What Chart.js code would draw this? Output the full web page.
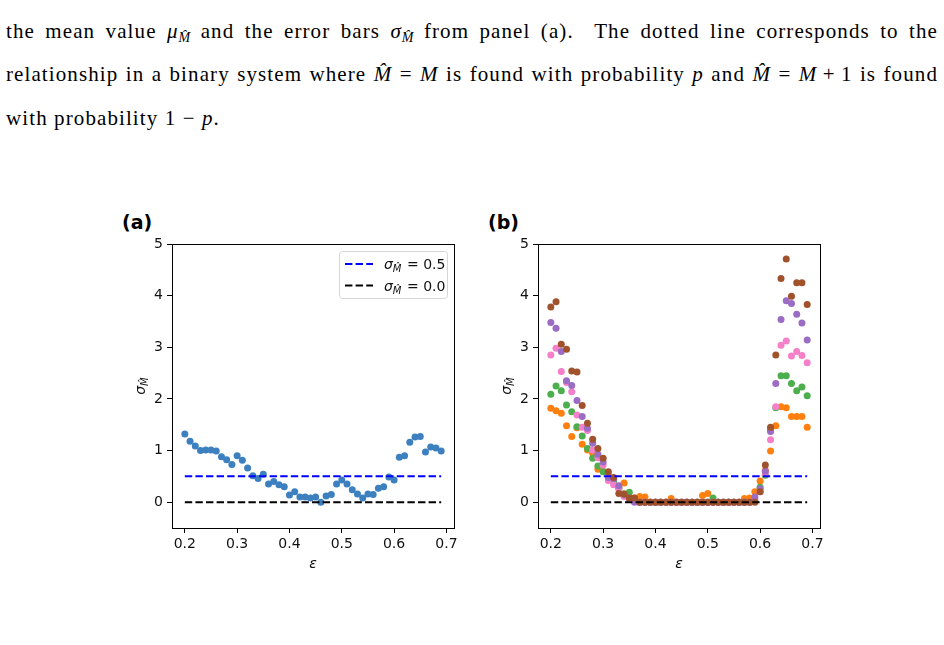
<!DOCTYPE html>
<html lang="en">
<head>
<meta charset="UTF-8">
<title>sigma vs epsilon</title>
<script src="https://cdn.jsdelivr.net/npm/chart.js"></script>
<style>
  body { margin: 0; width: 944px; height: 645px; background: #fff; position: relative; overflow: hidden; }
  .ln { position: absolute; left: 6px; width: 932px; font-family: 'Liberation Serif', serif; font-size: 21px;
        letter-spacing: 1.1px; line-height: 22px; color: #000; text-align: justify; text-align-last: justify; }
  .ln.last { text-align-last: left; }
  .ln sub { font-size: 14px; vertical-align: -4px; line-height: 0; letter-spacing: 0; }
  .tag { position: absolute; top: 213px; font: bold 19px 'DejaVu Sans'; line-height: 19px; color: #000; }
  .box { position: absolute; top: 230px; width: 360px; height: 350px; }
</style>
</head>
<body>
  <div class="ln" style="top:20px">the mean value <i>μ</i><sub><i>M&#770;</i></sub> and the error bars <i>σ</i><sub><i>M&#770;</i></sub> from panel (a).&nbsp; The dotted line corresponds to the</div>
  <div class="ln" style="top:63px">relationship in a binary system where <i>M&#770;</i> = <i>M</i> is found with probability <i>p</i> and <i>M&#770;</i> = <i>M</i>&#8201;+&#8201;1 is found</div>
  <div class="ln last" style="top:107px">with probability 1 − <i>p</i>.</div>

  <div class="tag" style="left:122px">(a)</div>
  <div class="tag" style="left:488px">(b)</div>
  <div class="box" style="left:110px"><canvas id="panelA" width="360" height="350"></canvas></div>
  <div class="box" style="left:476px"><canvas id="panelB" width="360" height="350"></canvas></div>

<script>
// epsilon values (x)
const xVals = [0.20, 0.21, 0.22, 0.23, 0.24, 0.25, 0.26, 0.27, 0.28, 0.29,
               0.30, 0.31, 0.32, 0.33, 0.34, 0.35, 0.36, 0.37, 0.38, 0.39,
               0.40, 0.41, 0.42, 0.43, 0.44, 0.45, 0.46, 0.47, 0.48, 0.49,
               0.50, 0.51, 0.52, 0.53, 0.54, 0.55, 0.56, 0.57, 0.58, 0.59,
               0.60, 0.61, 0.62, 0.63, 0.64, 0.65, 0.66, 0.67, 0.68, 0.69];
const xTicks = [0.2, 0.3, 0.4, 0.5, 0.6, 0.7];
const yTicks = [0, 1, 2, 3, 4, 5];
const xLimits = [0.1755, 0.7145];
const yLimits = [-0.5, 5];
const refLevels = [0.5, 0.0];
const legendLabels = ['= 0.5', '= 0.0'];

// panel (a)
const sigmaA = [1.32, 1.18, 1.09, 1.00, 1.01, 1.01, 0.99, 0.88, 0.82, 0.73,
                0.90, 0.81, 0.66, 0.51, 0.46, 0.54, 0.35, 0.40, 0.34, 0.30,
                0.14, 0.20, 0.10, 0.10, 0.08, 0.10, 0.00, 0.12, 0.15, 0.35,
                0.43, 0.35, 0.24, 0.16, 0.08, 0.16, 0.15, 0.27, 0.30, 0.49,
                0.43, 0.87, 0.90, 1.16, 1.26, 1.27, 0.97, 1.07, 1.05, 0.99];

// panel (b)
const sigmaOrange = [1.82, 1.77, 1.72, 1.48, 1.27, 1.44, 1.12, 1.01, 0.95, 0.64,
                     0.60, 0.52, 0.45, 0.28, 0.37, 0.10, 0.08, 0.11, 0.10, 0.00,
                     0.00, 0.00, 0.00, 0.07, 0.00, 0.00, 0.00, 0.00, 0.00, 0.13,
                     0.17, 0.00, 0.00, 0.00, 0.00, 0.00, 0.00, 0.07, 0.08, 0.20,
                     0.41, 0.62, 0.99, 1.48, 1.85, 1.83, 1.66, 1.66, 1.66, 1.45];
const sigmaGreen  = [2.09, 2.25, 2.16, 1.88, 1.75, 1.46, 1.28, 1.04, 0.85, 0.70,
                     0.59, 0.47, 0.40, 0.27, 0.16, 0.19, 0.06, 0.00, 0.00, 0.00,
                     0.00, 0.00, 0.00, 0.00, 0.00, 0.00, 0.00, 0.00, 0.00, 0.00,
                     0.00, 0.08, 0.00, 0.00, 0.00, 0.00, 0.00, 0.00, 0.00, 0.03,
                     0.29, 0.52, 1.40, 1.83, 2.45, 2.45, 2.30, 2.16, 2.23, 2.06];
const sigmaPink   = [2.85, 2.98, 2.53, 2.32, 2.14, 1.69, 1.45, 1.39, 1.01, 0.86,
                     0.72, 0.42, 0.34, 0.26, 0.11, 0.05, 0.02, 0.00, 0.00, 0.00,
                     0.00, 0.00, 0.00, 0.00, 0.00, 0.00, 0.00, 0.00, 0.00, 0.00,
                     0.00, 0.00, 0.00, 0.00, 0.00, 0.00, 0.00, 0.00, 0.00, 0.05,
                     0.20, 0.55, 1.21, 1.85, 3.04, 3.12, 2.83, 2.92, 2.84, 2.70];
const sigmaPurple = [3.48, 3.37, 2.92, 2.35, 2.26, 1.97, 1.66, 1.43, 1.14, 0.93,
                     0.78, 0.48, 0.46, 0.32, 0.15, 0.08, 0.00, 0.00, 0.00, 0.00,
                     0.00, 0.00, 0.00, 0.00, 0.00, 0.00, 0.00, 0.00, 0.00, 0.00,
                     0.00, 0.00, 0.00, 0.00, 0.00, 0.00, 0.00, 0.00, 0.00, 0.10,
                     0.26, 0.60, 1.37, 2.30, 3.54, 3.90, 3.85, 3.64, 3.47, 3.14];
const sigmaBrown  = [3.78, 3.88, 3.06, 2.96, 2.54, 2.52, 1.87, 1.53, 1.22, 1.04,
                     0.85, 0.59, 0.48, 0.17, 0.16, 0.08, 0.08, 0.00, 0.00, 0.00,
                     0.00, 0.00, 0.00, 0.00, 0.00, 0.00, 0.00, 0.00, 0.00, 0.00,
                     0.00, 0.00, 0.00, 0.00, 0.00, 0.00, 0.00, 0.00, 0.00, 0.00,
                     0.20, 0.72, 1.45, 2.85, 4.33, 4.71, 3.99, 4.25, 4.25, 3.83];

const FONT = 'DejaVu Sans';
const FSIZE = 14;
const DASH = [7.4, 3.2];
const pts = arr => xVals.map((x, i) => ({ x: x, y: arr[i] }));

function dots(arr, color, order) {
  return { type: 'scatter', data: pts(arr), backgroundColor: color, borderWidth: 0,
           pointRadius: 3.5, pointHoverRadius: 3.5, order: order };
}
function refLine(level, color) {
  return { type: 'line', data: [{ x: xVals[0], y: level }, { x: xVals[xVals.length - 1], y: level }],
           borderColor: color, borderWidth: 2, borderDash: DASH, pointRadius: 0,
           fill: false, order: 0 };
}

// sigma with M-hat subscript, optionally followed by more text
function drawSigma(ctx, x, y, align, tail) {
  const big = FSIZE + 'px ' + FONT, small = '10px ' + FONT;
  ctx.font = 'italic ' + big; const w1 = ctx.measureText('σ').width;
  ctx.font = 'italic ' + small; const w2 = ctx.measureText('M\u0302').width;
  ctx.font = big; const w3 = tail ? ctx.measureText(' ' + tail).width : 0;
  const x0 = align === 'center' ? x - (w1 + w2 + w3) / 2 : x;
  ctx.fillStyle = '#111';
  ctx.textAlign = 'left'; ctx.textBaseline = 'alphabetic';
  ctx.font = 'italic ' + big; ctx.fillText('σ', x0, y);
  ctx.font = 'italic ' + small; ctx.fillText('M\u0302', x0 + w1, y + 3);
  if (tail) { ctx.font = big; ctx.fillText(' ' + tail, x0 + w1 + w2 + 1, y); }
}

const axesPlugin = {
  id: 'axesFrame',
  afterDatasetsDraw(chart) {
    const ctx = chart.ctx, a = chart.chartArea;
    ctx.save();
    ctx.strokeStyle = '#000'; ctx.lineWidth = 1;
    ctx.strokeRect(Math.round(a.left) + 0.5, Math.round(a.top) + 0.5,
                   Math.round(a.right - a.left), Math.round(a.bottom - a.top));
    ctx.translate(a.left - 27, (a.top + a.bottom) / 2);
    ctx.rotate(-Math.PI / 2);
    drawSigma(ctx, 0, 0, 'center');
    ctx.restore();
  }
};

const legendPlugin = {
  id: 'refLegend',
  afterDraw(chart) {
    const ctx = chart.ctx, a = chart.chartArea;
    const w = 108, h = 47, x0 = a.right - 7 - w, y0 = a.top + 7;
    ctx.save();
    ctx.beginPath();
    ctx.roundRect(x0 + 0.5, y0 + 0.5, w, h, 3);
    ctx.fillStyle = 'rgba(255,255,255,0.8)'; ctx.fill();
    ctx.strokeStyle = '#d6d6d6'; ctx.lineWidth = 1; ctx.stroke();
    const colors = ['blue', '#000'];
    for (let i = 0; i < 2; i++) {
      const yy = y0 + 13 + i * 21.5;
      ctx.beginPath(); ctx.setLineDash(DASH);
      ctx.moveTo(x0 + 6, yy); ctx.lineTo(x0 + 34, yy);
      ctx.strokeStyle = colors[i]; ctx.lineWidth = 2; ctx.stroke();
      ctx.setLineDash([]);
      drawSigma(ctx, x0 + 45, yy + 5, 'left', legendLabels[i]);
    }
    ctx.restore();
  }
};

function options() {
  const tickFont = { family: FONT, size: FSIZE };
  const grid = { display: true, drawOnChartArea: false, drawTicks: true, tickLength: 5,
                 tickColor: '#000', tickWidth: 1 };
  return {
    responsive: false, animation: false, events: [],
    layout: { padding: { top: 14, right: 16, left: 0, bottom: 0 } },
    plugins: { legend: { display: false }, tooltip: { enabled: false } },
    scales: {
      x: { type: 'linear', min: xLimits[0], max: xLimits[1], grid: grid, border: { display: false },
           afterBuildTicks: s => { s.ticks = xTicks.map(v => ({ value: v })); },
           afterFit: s => { s.height = 52; },
           ticks: { color: '#111', font: tickFont, padding: 3, maxRotation: 0, autoSkip: false,
                    callback: v => v.toFixed(1) },
           title: { display: true, text: 'ε', color: '#111',
                    font: { family: FONT, size: FSIZE, style: 'italic' }, padding: { top: 0, bottom: 7 } } },
      y: { type: 'linear', min: yLimits[0], max: yLimits[1], grid: grid, border: { display: false },
           afterBuildTicks: s => { s.ticks = yTicks.map(v => ({ value: v })); },
           afterFit: s => { s.width = 62; },
           ticks: { color: '#111', font: tickFont, padding: 4, callback: v => String(v) } }
    }
  };
}

new Chart(document.getElementById('panelA'), {
  type: 'scatter',
  data: { datasets: [ refLine(refLevels[0], 'blue'), refLine(refLevels[1], '#000'),
                      dots(sigmaA, '#3d80bf', 1) ] },
  options: options(),
  plugins: [axesPlugin, legendPlugin]
});

new Chart(document.getElementById('panelB'), {
  type: 'scatter',
  data: { datasets: [ refLine(refLevels[0], 'blue'), refLine(refLevels[1], '#000'),
                      dots(sigmaBrown, '#a0522d', 1), dots(sigmaPurple, '#9a6cc4', 2),
                      dots(sigmaPink, '#f57fc8', 3), dots(sigmaGreen, '#4cae4c', 4),
                      dots(sigmaOrange, '#ff800e', 5) ] },
  options: options(),
  plugins: [axesPlugin]
});
</script>
</body>
</html>
